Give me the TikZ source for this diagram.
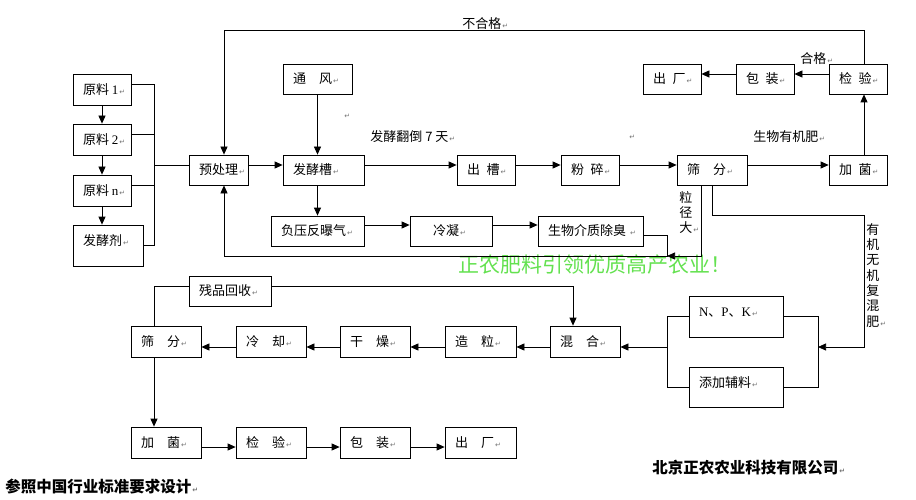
\documentclass[tikz,border=0pt]{standalone}
\usepackage{fontspec}
\setmainfont{Noto Sans CJK SC}
\newfontfamily\tms{Liberation Serif}
\newfontfamily\djv{DejaVu Sans}
\usetikzlibrary{arrows.meta}
\definecolor{wm}{RGB}{100,225,80}
\newcommand\rmk{\hspace{1pt}{\djv\fontsize{7}{7}\selectfont\color{black!55}↵}}
\newcommand\gapA{\hspace{1em}}
\newcommand\gapB{\hspace{0.5em}}
\newcommand\bx[7][]{%
 \pgfmathsetmacro\bxw{#5-#3}%
 \pgfmathsetmacro\bxh{#6-#4}%
 \pgfmathsetmacro\bxt{#5-#3-20}%
 \pgfmathsetmacro\bxx{(#3+#5)/2}%
 \pgfmathsetmacro\bxy{(#4+#6)/2}%
 \node[box,minimum width=\bxw pt,minimum height=\bxh pt,#1] (#2) at (\bxx,\bxy) {\makebox[\bxt pt][l]{#7}};}
\begin{document}
\begin{tikzpicture}[x=1pt,y=-1pt,line width=0.75pt,
  box/.style={draw,rectangle,inner xsep=10pt,inner ysep=0pt,font=\fontsize{13}{15}\selectfont},
  upt/.style={text height=11pt,text depth=11pt},
  arr/.style={-{Triangle[length=8pt,width=7pt]}},
  lab/.style={inner sep=0pt,anchor=west,font=\fontsize{13}{15}\selectfont},
  vlab/.style={inner sep=0pt,anchor=north west,align=left,font=\fontsize{13}{15.3}\selectfont}]
\useasboundingbox (0,0) rectangle (916,500);
% boxes
\bx{r1}{73}{74}{131}{105}{原料 {\tms 1}\rmk}
\bx{r2}{73}{124}{131}{155}{原料 {\tms 2}\rmk}
\bx{rn}{73}{175}{131}{206}{原料 {\tms n}\rmk}
\bx[upt]{fjj}{73}{225}{143}{266}{发酵剂\rmk}
\bx{ycl}{189}{155}{248}{185}{预处理\rmk}
\bx{tf}{283}{64}{352}{94}{通\gapA 风\rmk}
\bx{fjc}{283}{155}{364}{185}{发酵槽\rmk}
\bx{fyq}{271}{216}{364}{246}{负压反曝气\rmk}
\bx{ln}{410}{216}{492}{246}{\hspace{13pt}冷凝\rmk}
\bx{sw}{538}{216}{643}{246}{生物介质除臭\hspace{3pt}\rmk}
\bx{cc}{457}{155}{515}{185}{出\gapB 槽\rmk}
\bx{fs}{561}{155}{619}{185}{粉\gapB 碎\rmk}
\bx{sf}{677}{155}{747}{185}{筛\gapA 分\rmk}
\bx{jj}{829}{155}{887}{185}{加\gapB 菌\rmk}
\bx{jy}{829}{64}{887}{94}{检\gapB 验\rmk}
\bx{bz}{736}{64}{794}{94}{包\gapB 装\rmk}
\bx{cf}{643}{64}{701}{94}{出\gapB 厂\rmk}
\bx[upt]{npk}{689}{296}{783}{337}{{\tms N}、{\tms P}、{\tms K}\rmk}
\bx[upt]{tjfl}{689}{367}{783}{407}{添加辅料\rmk}
\bx{hh}{550}{326}{620}{357}{混\gapA 合\rmk}
\bx{zl}{445}{326}{516}{357}{造\gapA 粒\rmk}
\bx{gz}{340}{326}{410}{357}{干\gapA 燥\rmk}
\bx{lq}{236}{326}{306}{357}{冷\gapA 却\rmk}
\bx{sf2}{131}{326}{201}{357}{筛\gapA 分\rmk}
\bx{cphs}{189}{276}{271}{306}{残品回收\rmk}
\bx{jj2}{131}{427}{201}{458}{加\gapA 菌\rmk}
\bx{jy2}{236}{427}{306}{458}{检\gapA 验\rmk}
\bx{bz2}{340}{427}{410}{458}{包\gapA 装\rmk}
\bx{cf2}{445}{427}{516}{458}{出\gapA 厂\rmk}
% labels
\node[lab] (bhg) at (462,24) {不合格\rmk};
\node[lab] (hg) at (800,59) {合格\rmk};
\node[lab] (fjfd) at (370,137) {发酵翻倒 7 天\rmk};
\node[lab] (swyjf) at (753,137) {生物有机肥\rmk};
\node[lab] (m1) at (343,116) {\rmk};
\node[lab] (m2) at (628,137) {\rmk};
\node[vlab] (ljd) at (679,191) {粒\\径\\大\rmk};
\node[vlab] (yjwj) at (866,223) {有\\机\\无\\机\\复\\混\\肥\rmk};
\node[lab,text=wm,font=\fontsize{21}{21}\selectfont] (wmk) at (458,265) {正农肥料引领优质高产农业！};
\node[lab,font=\fontsize{15.5}{16}\selectfont\bfseries] (cz) at (5,487) {参照中国行业标准要求设计\rmk};
\node[lab,font=\fontsize{15.5}{16}\selectfont\bfseries] (bj) at (652,468) {北京正农农业科技有限公司\rmk};
% left column
\draw[arr] (r1) -- (r2);
\draw[arr] (r2) -- (rn);
\draw[arr] (rn.south) -- (rn.south |- fjj.north);
\path ([yshift=5pt]r1.east) coordinate (r1o) ([yshift=5pt]r2.east) coordinate (r2o) ([yshift=5pt]rn.east) coordinate (rno) ([yshift=5pt]ycl.west) coordinate (yclw);
\coordinate (bx0) at (154,0);
\draw (r1o) -- (bx0 |- r1o) -- (bx0 |- fjj.east) -- (fjj.east);
\draw (r2o) -- (bx0 |- r2o);
\draw (rno) -- (bx0 |- rno);
\draw (bx0 |- yclw) -- (yclw);
% main line
\draw[arr] ([yshift=5pt]ycl.east) -- ([yshift=5pt]fjc.west);
\draw[arr] (tf) -- (tf |- fjc.north);
\draw[arr] (tf |- fjc.south) -- (tf |- fyq.north);
\draw[arr] ([yshift=5pt]fjc.east) -- ([yshift=5pt]cc.west);
\draw[arr] ([yshift=5pt]cc.east) -- ([yshift=5pt]fs.west);
\draw[arr] ([yshift=5pt]fs.east) -- ([yshift=5pt]sf.west);
\draw[arr] ([yshift=5pt]sf.east) -- ([yshift=5pt]jj.west);
\draw[arr] ([xshift=6pt]jj.north) -- ([xshift=6pt]jy.south);
\draw[arr] ([yshift=5pt]jy.west) -- ([yshift=5pt]bz.east);
\draw[arr] ([yshift=5pt]bz.west) -- ([yshift=5pt]cf.east);
\coordinate (tp) at (224,30);
\draw[arr] ([xshift=6pt]jy.north) |- (tp) -- (tp |- ycl.north);
% deodorising line
\draw[arr] ([yshift=6pt]fyq.east) -- ([yshift=6pt]ln.west);
\draw[arr] ([yshift=6pt]ln.east) -- ([yshift=6pt]sw.west);
\coordinate (lp) at (667,256);
\draw[arr] ([yshift=-4pt]sw.east) -| (lp) -| (tp |- ycl.south);
\draw[arr] ([xshift=-11pt]sf.south) |- (lp);
% compound fertiliser
\coordinate (k1) at (864,215);
\coordinate (rb) at (818,347);
\coordinate (lb) at (667,347);
\draw[arr] (sf.south) |- (k1) |- (rb);
\draw (npk.east) -| (rb |- tjfl.east) -- (tjfl.east);
\draw (npk.west) -| (lb |- tjfl.west) -- (tjfl.west);
\draw[arr] (lb) -- (lb -| hh.east);
\draw[arr] (hh.west |- lb) -- (zl.east |- lb);
\draw[arr] (zl.west |- lb) -- (gz.east |- lb);
\draw[arr] (gz.west |- lb) -- (lq.east |- lb);
\draw[arr] (lq.west |- lb) -- (sf2.east |- lb);
\draw ([xshift=-12pt]sf2.north) |- ([yshift=5pt]cphs.west);
\draw[arr] ([yshift=5pt]cphs.east) -| ([xshift=-12pt]hh.north);
\draw[arr] ([xshift=-12pt]sf2.south) -- ([xshift=-12pt]jj2.north);
\coordinate (bl) at (0,447);
\draw[arr] (jj2.east |- bl) -- (jy2.west |- bl);
\draw[arr] (jy2.east |- bl) -- (bz2.west |- bl);
\draw[arr] (bz2.east |- bl) -- (cf2.west |- bl);
\end{tikzpicture}
\end{document}
